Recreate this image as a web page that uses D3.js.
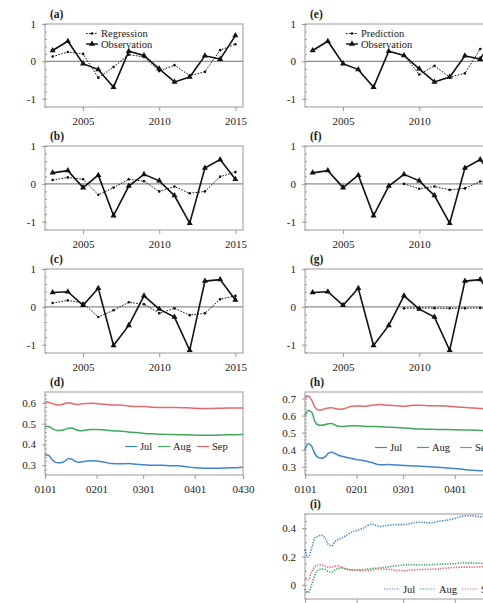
<!DOCTYPE html>
<html><head><meta charset="utf-8">
<script src="https://cdn.jsdelivr.net/npm/d3@7"></script>
<style>body{margin:0;background:#fff}svg{display:block}</style>
</head><body>
<script>
// ---------- data ----------
const years = [2003,2004,2005,2006,2007,2008,2009,2010,2011,2012,2013,2014,2015];
const obsA = [0.29,0.54,-0.06,-0.22,-0.69,0.27,0.16,-0.20,-0.55,-0.42,0.15,0.06,0.69];
const regA = [0.13,0.25,0.20,-0.44,-0.15,0.18,0.12,-0.26,-0.10,-0.38,-0.28,0.30,0.46];
const obsB = [0.29,0.35,-0.10,0.23,-0.84,-0.06,0.25,0.08,-0.31,-1.04,0.42,0.64,0.12];
const regB = [0.10,0.17,0.12,-0.29,-0.10,0.12,0.07,-0.20,-0.07,-0.25,-0.20,0.19,0.31];
const obsC = [0.38,0.40,0.04,0.49,-1.02,-0.49,0.29,-0.06,-0.27,-1.15,0.68,0.72,0.18];
const regC = [0.10,0.17,0.10,-0.27,-0.09,0.12,0.07,-0.17,-0.04,-0.22,-0.17,0.20,0.29];
const predYears = [2009,2010,2011,2012,2013,2014,2015];
const predE = [0.16,-0.35,-0.12,-0.42,-0.32,0.33,0.45];
const predF = [0.00,-0.13,-0.07,-0.16,-0.12,0.06,0.10];
const predG = [-0.04,-0.03,-0.035,-0.04,-0.04,-0.03,-0.03];

const days = [0,2,4,6,8,10,12,14,16,18,20,22,25,28,31,35,40,45,50,55,60,65,70,75,80,85,90,95,100,105,110,115,119];
const dJul = [0.350,0.348,0.330,0.315,0.312,0.313,0.320,0.332,0.330,0.320,0.314,0.316,0.320,0.322,0.320,0.316,0.308,0.307,0.308,0.305,0.302,0.300,0.300,0.298,0.297,0.293,0.288,0.286,0.285,0.286,0.287,0.288,0.290];
const dAug = [0.487,0.486,0.478,0.470,0.467,0.468,0.472,0.478,0.479,0.473,0.467,0.466,0.469,0.472,0.472,0.470,0.466,0.464,0.460,0.457,0.453,0.451,0.449,0.448,0.447,0.446,0.445,0.444,0.444,0.445,0.446,0.447,0.448];
const dSep = [0.605,0.603,0.597,0.592,0.590,0.592,0.597,0.600,0.598,0.593,0.592,0.595,0.597,0.598,0.597,0.593,0.590,0.589,0.585,0.582,0.582,0.579,0.578,0.578,0.577,0.576,0.574,0.573,0.573,0.574,0.575,0.575,0.575];
const hJul = [0.400,0.435,0.420,0.375,0.355,0.350,0.358,0.378,0.385,0.378,0.368,0.362,0.355,0.348,0.342,0.337,0.325,0.312,0.313,0.310,0.308,0.305,0.303,0.300,0.298,0.293,0.290,0.285,0.280,0.277,0.278,0.280,0.282];
const hAug = [0.600,0.630,0.620,0.565,0.545,0.543,0.546,0.552,0.553,0.545,0.537,0.536,0.538,0.540,0.540,0.538,0.536,0.535,0.532,0.530,0.527,0.523,0.521,0.520,0.519,0.518,0.517,0.516,0.515,0.513,0.512,0.512,0.512];
const hSep = [0.705,0.715,0.690,0.648,0.633,0.633,0.640,0.645,0.646,0.642,0.638,0.637,0.645,0.655,0.656,0.655,0.660,0.665,0.660,0.658,0.655,0.660,0.660,0.658,0.658,0.656,0.652,0.648,0.645,0.642,0.640,0.640,0.640];
const iJul = [0.250,0.195,0.260,0.330,0.345,0.350,0.330,0.285,0.275,0.305,0.320,0.330,0.350,0.372,0.383,0.400,0.428,0.412,0.420,0.425,0.425,0.438,0.442,0.437,0.448,0.456,0.468,0.485,0.488,0.480,0.487,0.485,0.484];
const iAug = [-0.030,-0.055,0.000,0.070,0.105,0.112,0.108,0.095,0.090,0.105,0.115,0.120,0.112,0.105,0.105,0.108,0.115,0.120,0.127,0.135,0.140,0.142,0.140,0.142,0.145,0.148,0.150,0.155,0.155,0.152,0.153,0.155,0.155];
const iSep = [0.040,0.035,0.090,0.130,0.140,0.140,0.132,0.125,0.125,0.132,0.135,0.125,0.110,0.105,0.103,0.100,0.105,0.112,0.110,0.102,0.100,0.105,0.108,0.110,0.112,0.118,0.122,0.125,0.125,0.127,0.128,0.130,0.130];

const yearTicks = [2005,2010,2015];
const dayTickVals = [0,31,59,90,119];
const dayTickLabels = ["0101","0201","0301","0401","0430"];
const monthNames = ["Jul","Aug","Sep"];
const monthColors = ["#3f86cc","#3fa85c","#e46a6a"];

// ---------- drawing ----------
const FONT = '"Liberation Serif", "Times New Roman", Times, "DejaVu Serif", serif';
const W = 483, H = 603;
const svg = d3.select("body").append("svg").attr("width", W).attr("height", H).attr("font-family", FONT);
const FRAME = "#9a9a9a", TXT = "#222";
const colX = [45, 305], PW = 198;

function styleAxis(g){
  g.attr("font-family", FONT);
  g.selectAll(".domain").remove();
  g.selectAll(".tick line").attr("stroke", FRAME);
  g.selectAll(".tick text").attr("fill", TXT).attr("font-size", 11);
}

function panelFrame(x0, top, h){
  svg.append("rect").attr("x", x0).attr("y", top).attr("width", PW).attr("height", h)
    .attr("fill","none").attr("stroke", FRAME).attr("stroke-width", 1);
}

function panelLabel(x, y, t){
  svg.append("text").attr("x", x).attr("y", y).text(t)
    .attr("font-weight","bold").attr("font-size", 11.5).attr("fill", TXT);
}

function yAxes(x0, y, major, minor, fmt){
  const g1 = svg.append("g").attr("transform",`translate(${x0},0)`)
    .call(d3.axisLeft(y).tickValues(major).tickSize(3).tickPadding(6).tickFormat(fmt));
  styleAxis(g1);
  const g2 = svg.append("g").attr("transform",`translate(${x0},0)`)
    .call(d3.axisRight(y).tickValues(minor).tickSize(2).tickFormat(""));
  styleAxis(g2);
}

function tsPanel(col, top, h, obs, other, otherYears, label, legendName){
  const x0 = colX[col];
  const x = d3.scaleLinear().domain([2002.5, 2015.5]).range([x0, x0 + PW]);
  const y = d3.scaleLinear().domain([-1.22, 1]).range([top + h, top]);
  panelFrame(x0, top, h);
  svg.append("line").attr("x1", x0).attr("x2", x0 + PW).attr("y1", y(0)).attr("y2", y(0))
    .attr("stroke", "#8c8c8c").attr("stroke-width", 1.3);
  yAxes(x0, y, [-1,0,1], d3.range(-12, 11, 2).map(v => v/10), d => String(d));
  const gx = svg.append("g").attr("transform",`translate(0,${top + h})`)
    .call(d3.axisBottom(x).tickValues(yearTicks).tickSize(4).tickPadding(6).tickFormat(d3.format("d")));
  styleAxis(gx);
  const line = d3.line().x(d => x(d[0])).y(d => y(d[1]));
  const od = otherYears.map((yr, i) => [yr, other[i]]);
  svg.append("path").attr("d", line(od)).attr("fill","none").attr("stroke","#111")
    .attr("stroke-width", 1).attr("stroke-dasharray","1.6,1.4");
  svg.selectAll(null).data(od).enter().append("circle")
    .attr("cx", d => x(d[0])).attr("cy", d => y(d[1])).attr("r", 1.3).attr("fill","#111");
  const ob = years.map((yr, i) => [yr, obs[i]]);
  svg.append("path").attr("d", line(ob)).attr("fill","none").attr("stroke","#111").attr("stroke-width", 1.6);
  const tri = d3.symbol(d3.symbolTriangle).size(16);
  svg.selectAll(null).data(ob).enter().append("path").attr("d", tri)
    .attr("transform", d => `translate(${x(d[0])},${y(d[1])})`).attr("fill","#111");
  panelLabel(x0 + 5, top - 6, label);
  if (legendName){
    const lx = x0 + 41;
    const ly1 = top + 9.5, ly2 = top + 20;
    svg.append("line").attr("x1", lx).attr("x2", lx + 12).attr("y1", ly1).attr("y2", ly1)
      .attr("stroke","#111").attr("stroke-dasharray","1.6,1.4");
    svg.append("circle").attr("cx", lx + 6).attr("cy", ly1).attr("r", 1.3).attr("fill","#111");
    svg.append("text").attr("x", lx + 15).attr("y", ly1 + 3.5).text(legendName).attr("font-size", 10.5).attr("fill",TXT);
    svg.append("line").attr("x1", lx).attr("x2", lx + 12).attr("y1", ly2).attr("y2", ly2)
      .attr("stroke","#111").attr("stroke-width",1.4);
    svg.append("path").attr("d", tri).attr("transform",`translate(${lx+6},${ly2})`).attr("fill","#111");
    svg.append("text").attr("x", lx + 15).attr("y", ly2 + 3.5).text("Observation").attr("font-size", 10.5).attr("fill",TXT);
  }
}

function linePanel(col, top, h, dom, major, minor, fmt, series, dotted, label, legendY, legendXs, legendW){
  const x0 = colX[col];
  const x = d3.scaleLinear().domain([0, 119]).range([x0, x0 + PW]);
  const y = d3.scaleLinear().domain(dom).range([top + h, top]);
  panelFrame(x0, top, h);
  yAxes(x0, y, major, minor, fmt);
  const gx = svg.append("g").attr("transform",`translate(0,${top + h})`)
    .call(d3.axisBottom(x).tickValues(dayTickVals).tickSize(4).tickPadding(6)
      .tickFormat((d, i) => dayTickLabels[i]));
  styleAxis(gx);
  const line = d3.line().x(d => x(d[0])).y(d => y(d[1])).curve(d3.curveMonotoneX);
  series.forEach((s, k) => {
    const p = svg.append("path").attr("d", line(days.map((dd, i) => [dd, s[i]])))
      .attr("fill","none").attr("stroke", monthColors[k]).attr("stroke-width", dotted ? 1.6 : 1.5);
    if (dotted) p.attr("stroke-dasharray","1.3,1.3");
  });
  monthNames.forEach((m, k) => {
    const lx = legendXs[k];
    const l = svg.append("line").attr("x1", lx).attr("x2", lx + legendW).attr("y1", legendY).attr("y2", legendY)
      .attr("stroke", monthColors[k]).attr("stroke-width", 1.2);
    if (dotted) l.attr("stroke-dasharray","1.3,1.3");
    svg.append("text").attr("x", lx + legendW + 3).attr("y", legendY + 3.5).text(m)
      .attr("font-size", 10.5).attr("fill", TXT);
  });
  panelLabel(x0 + 5, top - 6, label);
}

tsPanel(0, 24, 83, obsA, regA, years, "(a)", "Regression");
tsPanel(0, 146, 84, obsB, regB, years, "(b)", null);
tsPanel(0, 269, 84, obsC, regC, years, "(c)", null);
tsPanel(1, 24, 83, obsA, predE, predYears, "(e)", "Prediction");
tsPanel(1, 146, 84, obsB, predF, predYears, "(f)", null);
tsPanel(1, 269, 84, obsC, predG, predYears, "(g)", null);

const f1 = d3.format(".1f");
linePanel(0, 392, 83, [0.253, 0.652], [0.3,0.4,0.5,0.6], d3.range(26, 65, 2).map(v => v/100), f1,
  [dJul, dAug, dSep], false, "(d)", 446.5, [125, 158, 197], 12);
linePanel(1, 392, 83, [0.252, 0.738], [0.3,0.4,0.5,0.6,0.7], d3.range(26, 74, 2).map(v => v/100), f1,
  [hJul, hAug, hSep], false, "(h)", 447.5, [375, 417, 460], 12);
linePanel(1, 514, 85, [-0.1, 0.5], [0,0.2,0.4], d3.range(-10, 51, 5).map(v => v/100), d => d === 0 ? "0" : f1(d),
  [iJul, iAug, iSep], true, "(i)", 589, [384, 420, 462], 16);

svg.selectAll("text").attr("font-family", FONT);
</script>
</body></html>
